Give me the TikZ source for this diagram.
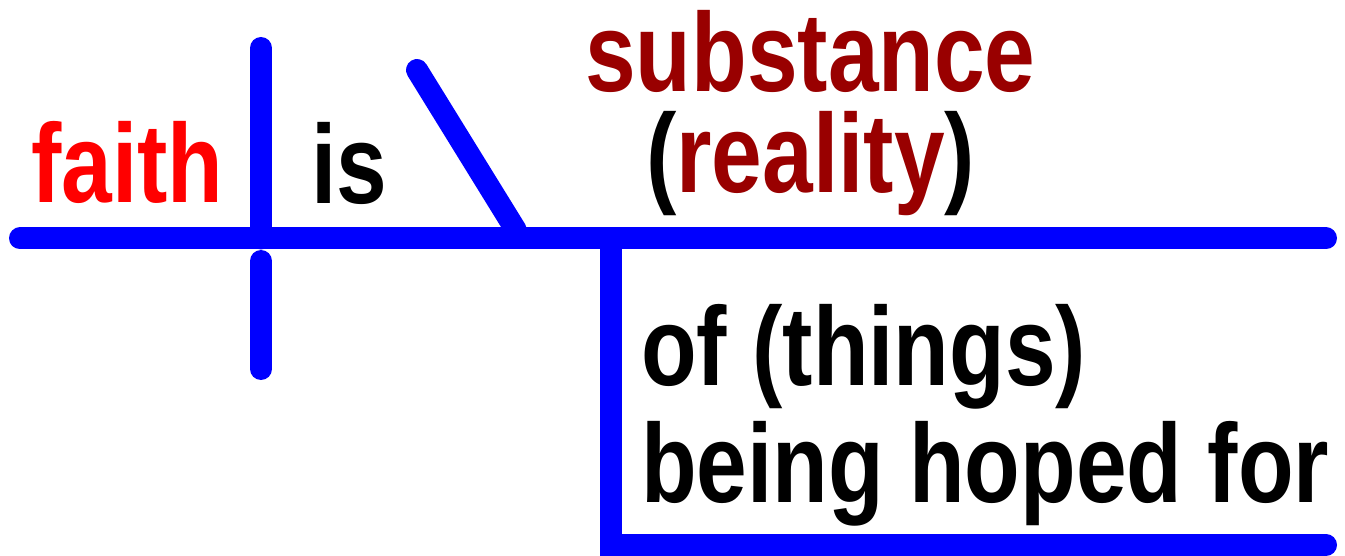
\documentclass[tikz,border=0pt]{standalone}
\usepackage{fontspec}
\newfontfamily\lab{Liberation Sans Bold}[FakeStretch=0.813]
\definecolor{diagblue}{RGB}{0,0,255}
\definecolor{darkred}{RGB}{153,0,0}
\definecolor{brightred}{RGB}{255,0,0}
\tikzset{
  word/.style={anchor=base west, inner sep=0pt, font=\lab\fontsize{112}{120}\selectfont},
  rule/.style={draw=diagblue, line width=22pt, line cap=round, line join=miter}
}
\begin{document}
\begin{tikzpicture}[x=1pt,y=-1pt]
\useasboundingbox (0,0) rectangle (1345,556);
% line end points
\coordinate (baseL) at (20,238.5);
\coordinate (baseR) at (1326,238.5);
\coordinate (divTop) at (261,48);
\coordinate (divMid) at (261,238.5);
\coordinate (divLowTop) at (261,261);
\coordinate (divLowBot) at (261,369);
\coordinate (slTop) at (417,70);
\coordinate (slBot) at (515.8,230);
\coordinate (modTop) at (611,238.5);
\coordinate (modCorner) at (611,545);
\coordinate (modEnd) at (1326,545);
% lines
\draw[rule] (baseL) -- (baseR);
\draw[rule] (divTop) -- (divMid);
\draw[rule] (divLowTop) -- (divLowBot);
\draw[rule] (slTop) -- (slBot);
\draw[rule] (modTop) -- (modCorner) -- (modEnd);
% words
\node[word, text=brightred] (faith) at (31,203) {faith};
\node[word] (is) at (311,204) {is};
\node[word, text=darkred] (substance) at (585,92) {substance};
\node[word] (reality) at (646,193) {(\textcolor{darkred}{reality})};
\node[word] (things) at (641,385) {of (things)};
\node[word] (hoped) at (641,502) {being hoped for};
\end{tikzpicture}
\end{document}
